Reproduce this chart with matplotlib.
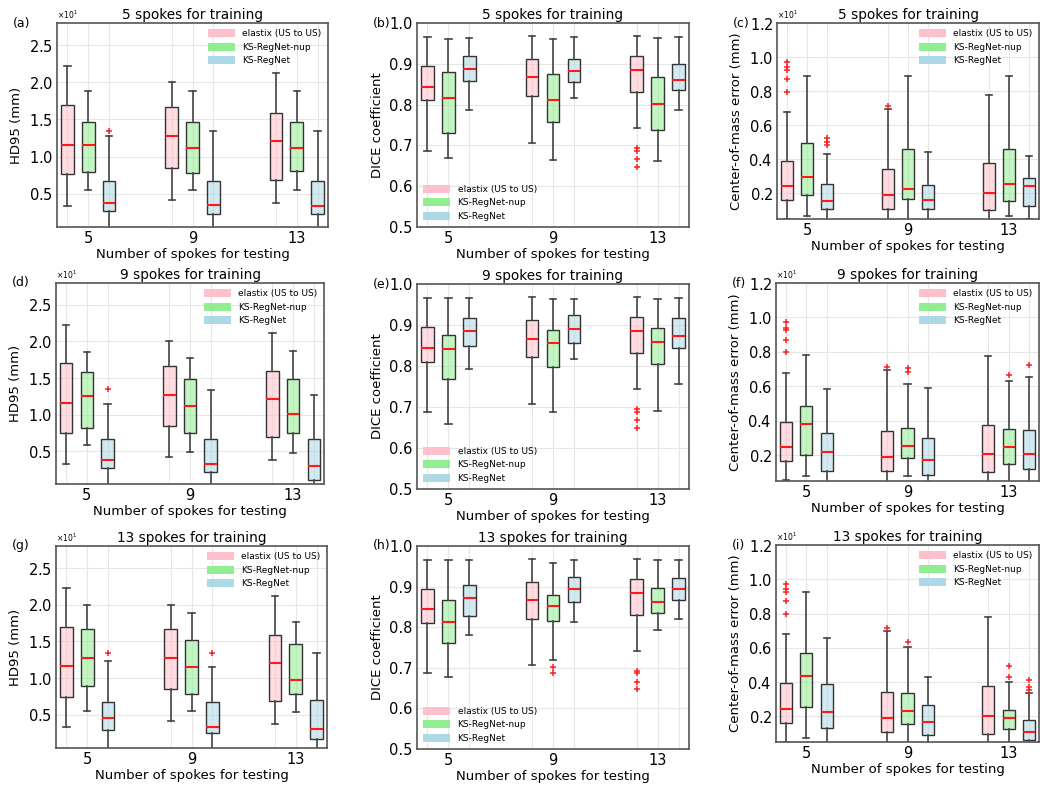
import matplotlib
matplotlib.use("Agg")
import matplotlib.pyplot as plt
from matplotlib.patches import Patch
from matplotlib.ticker import ScalarFormatter, FormatStrFormatter

# ---------------- data ----------------
methods = ["elastix (US to US)", "KS-RegNet-nup", "KS-RegNet"]
test_spokes = ["5", "9", "13"]
train_spokes = ["5", "9", "13"]
panel_letters = ["a", "b", "c", "d", "e", "f", "g", "h", "i"]

# each box: (whislo, q1, med, q3, whishi, [fliers]); order per panel:
# test 5: elastix, nup, regnet; test 9: ...; test 13: ...
# HD95 values in units of 10 mm (x10^1)
hd95_train5 = [
    (0.33, 0.76, 1.16, 1.70, 2.22, []), (0.55, 0.79, 1.15, 1.47, 1.88, []), (0.0, 0.27, 0.38, 0.67, 1.27, [1.34]),
    (0.42, 0.84, 1.27, 1.67, 2.01, []), (0.55, 0.78, 1.12, 1.47, 1.88, []), (0.0, 0.22, 0.34, 0.67, 1.34, []),
    (0.38, 0.69, 1.21, 1.59, 2.12, []), (0.55, 0.81, 1.12, 1.47, 1.88, []), (0.0, 0.22, 0.33, 0.67, 1.34, []),
]
hd95_train9 = [
    (0.33, 0.75, 1.16, 1.70, 2.22, []), (0.59, 0.82, 1.25, 1.58, 1.86, []), (0.0, 0.27, 0.38, 0.67, 1.15, [1.35]),
    (0.42, 0.84, 1.27, 1.67, 2.01, []), (0.49, 0.75, 1.12, 1.48, 1.77, []), (0.0, 0.22, 0.32, 0.67, 1.34, []),
    (0.38, 0.69, 1.21, 1.59, 2.12, []), (0.48, 0.75, 1.01, 1.48, 1.87, []), (0.0, 0.11, 0.29, 0.67, 1.27, []),
]
hd95_train13 = [
    (0.34, 0.75, 1.16, 1.70, 2.23, []), (0.55, 0.90, 1.27, 1.67, 1.99, []), (0.0, 0.30, 0.46, 0.67, 1.23, [1.34]),
    (0.42, 0.85, 1.27, 1.67, 2.00, []), (0.55, 0.79, 1.15, 1.52, 1.89, []), (0.0, 0.25, 0.34, 0.67, 1.15, [1.34]),
    (0.38, 0.69, 1.21, 1.59, 2.12, []), (0.54, 0.79, 0.97, 1.47, 1.77, []), (0.0, 0.17, 0.31, 0.71, 1.34, []),
]
dice_train5 = [
    (0.686, 0.811, 0.844, 0.895, 0.965, []), (0.668, 0.730, 0.816, 0.879, 0.962, []), (0.787, 0.857, 0.887, 0.918, 0.963, []),
    (0.706, 0.822, 0.867, 0.912, 0.968, []), (0.664, 0.757, 0.811, 0.875, 0.961, []), (0.816, 0.856, 0.883, 0.912, 0.965, []),
    (0.743, 0.831, 0.885, 0.920, 0.967, [0.693, 0.687, 0.666, 0.648]), (0.662, 0.738, 0.801, 0.868, 0.964, []),
    (0.787, 0.836, 0.860, 0.900, 0.965, []),
]
dice_train9 = [
    (0.688, 0.810, 0.845, 0.896, 0.965, []), (0.658, 0.769, 0.842, 0.876, 0.965, []), (0.792, 0.848, 0.886, 0.917, 0.965, []),
    (0.708, 0.822, 0.867, 0.913, 0.968, []), (0.689, 0.797, 0.857, 0.888, 0.963, []), (0.817, 0.855, 0.890, 0.924, 0.964, []),
    (0.743, 0.832, 0.886, 0.919, 0.968, [0.695, 0.689, 0.668, 0.648]), (0.691, 0.805, 0.859, 0.893, 0.964, []),
    (0.756, 0.844, 0.872, 0.917, 0.965, []),
]
dice_train13 = [
    (0.686, 0.811, 0.844, 0.895, 0.966, []), (0.678, 0.760, 0.814, 0.866, 0.966, []), (0.781, 0.828, 0.873, 0.904, 0.965, []),
    (0.706, 0.821, 0.867, 0.911, 0.968, []), (0.719, 0.816, 0.851, 0.880, 0.959, [0.702, 0.686]), (0.814, 0.863, 0.895, 0.924, 0.965, []),
    (0.741, 0.831, 0.885, 0.919, 0.968, [0.693, 0.687, 0.666, 0.647]), (0.793, 0.835, 0.862, 0.897, 0.965, []),
    (0.820, 0.866, 0.894, 0.920, 0.966, []),
]
# centre-of-mass error in units of 10 mm (x10^1)
com_train5 = [
    (0.052, 0.163, 0.245, 0.391, 0.678, [0.972, 0.943, 0.927, 0.869, 0.795]), (0.065, 0.192, 0.294, 0.498, 0.890, []),
    (0.0, 0.108, 0.157, 0.255, 0.432, [0.527, 0.504, 0.485]),
    (0.0, 0.108, 0.188, 0.342, 0.693, [0.713]), (0.0, 0.169, 0.225, 0.461, 0.890, []), (0.0, 0.108, 0.163, 0.247, 0.446, []),
    (0.0, 0.104, 0.202, 0.377, 0.775, []), (0.065, 0.157, 0.255, 0.461, 0.890, []), (0.052, 0.128, 0.241, 0.292, 0.422, []),
]
com_train9 = [
    (0.054, 0.165, 0.245, 0.393, 0.678, [0.974, 0.941, 0.925, 0.869, 0.797]), (0.079, 0.200, 0.379, 0.487, 0.783, []),
    (0.0, 0.106, 0.218, 0.327, 0.584, []),
    (0.0, 0.108, 0.190, 0.342, 0.695, [0.715]), (0.079, 0.181, 0.251, 0.360, 0.615, [0.707, 0.683]), (0.0, 0.087, 0.171, 0.297, 0.590, []),
    (0.0, 0.103, 0.204, 0.375, 0.777, []), (0.0, 0.151, 0.249, 0.354, 0.629, [0.668]), (0.0, 0.118, 0.204, 0.348, 0.652, [0.722]),
]
com_train13 = [
    (0.052, 0.161, 0.243, 0.393, 0.682, [0.972, 0.944, 0.928, 0.871, 0.800]), (0.076, 0.257, 0.436, 0.568, 0.926, []),
    (0.0, 0.133, 0.226, 0.389, 0.659, []),
    (0.0, 0.107, 0.190, 0.344, 0.698, [0.718]), (0.0, 0.153, 0.229, 0.334, 0.607, [0.635]), (0.0, 0.092, 0.167, 0.265, 0.432, []),
    (0.0, 0.098, 0.202, 0.379, 0.781, []), (0.0, 0.123, 0.190, 0.235, 0.403, [0.491, 0.432]),
    (0.0, 0.062, 0.111, 0.176, 0.338, [0.413, 0.369, 0.354]),
]

panels = [
    (hd95_train5, "hd"), (dice_train5, "dice"), (com_train5, "com"),
    (hd95_train9, "hd"), (dice_train9, "dice"), (com_train9, "com"),
    (hd95_train13, "hd"), (dice_train13, "dice"), (com_train13, "com"),
]

# ---------------- style ----------------
colors = ["#FFC0CB", "#90EE90", "#ADD8E6"]
frame_col = "#555555"
grid_col = "#e6e6e6"

# axes rectangles in pixels (x0, y0, x1, y1) from the top-left corner
W, H = 1050, 788
rects = [
    (57, 23, 328, 227), (417, 23, 689, 227), (777, 23, 1039, 219),
    (56, 283, 324, 484), (417, 284, 689, 489), (776, 283, 1039, 481),
    (56, 546, 327, 748), (417, 546, 689, 749), (776, 545, 1039, 742),
]

fig = plt.figure(figsize=(W / 100, H / 100), dpi=100)
fig.patch.set_facecolor("white")

offsets = [-0.2, 0.0, 0.2]
group_pos = [1, 2, 3]

for idx, ((data, kind), (x0, y0, x1, y1)) in enumerate(zip(panels, rects)):
    ax = fig.add_axes([x0 / W, 1 - y1 / H, (x1 - x0) / W, (y1 - y0) / H])
    scale = 1.0 if kind == "dice" else 10.0
    stats, positions, box_colors = [], [], []
    for g, gp in enumerate(group_pos):
        for m in range(3):
            lo, q1, med, q3, hi, fl = data[g * 3 + m]
            stats.append(dict(whislo=lo * scale, q1=q1 * scale, med=med * scale,
                              q3=q3 * scale, whishi=hi * scale,
                              fliers=[f * scale for f in fl]))
            positions.append(gp + offsets[m])
            box_colors.append(colors[m])
    bp = ax.bxp(stats, positions=positions, widths=0.12, patch_artist=True,
                showfliers=True,
                boxprops=dict(edgecolor="#333333", linewidth=1.0),
                whiskerprops=dict(color="#444444", linewidth=1.2),
                capprops=dict(color="#444444", linewidth=1.2),
                medianprops=dict(color="#ff1a1a", linewidth=1.5),
                flierprops=dict(marker="+", markeredgecolor="#ff2020",
                                markersize=4, markeredgewidth=1.1))
    for patch, c in zip(bp["boxes"], box_colors):
        patch.set_facecolor(matplotlib.colors.to_rgba(c, 0.55))

    ax.set_xlim(0.7, 3.3)
    ax.set_xticks(positions)
    labels = []
    for g in range(3):
        labels += ["", test_spokes[g], ""]
    ax.set_xticklabels(labels)
    ax.tick_params(axis="both", length=0, pad=3, labelsize=10.5)
    ax.grid(True, color=grid_col, linewidth=0.8)
    ax.set_axisbelow(True)
    for sp in ax.spines.values():
        sp.set_color(frame_col)
        sp.set_linewidth(1.2)

    if kind == "hd":
        ax.set_ylim(0.5, 28)
        ax.set_yticks([5, 10, 15, 20, 25])
        ax.set_ylabel("HD95 (mm)", fontsize=9.5)
        loc = "upper right"
    elif kind == "dice":
        ax.set_ylim(0.5, 1.0)
        ax.set_yticks([0.5, 0.6, 0.7, 0.8, 0.9, 1.0])
        ax.set_ylabel("DICE coefficient", fontsize=9.5)
        loc = "lower left"
    else:
        ax.set_ylim(0.5, 12)
        ax.set_yticks([2, 4, 6, 8, 10, 12])
        ax.set_ylabel("Center-of-mass error (mm)", fontsize=9.5)
        loc = "upper right"
    if kind != "dice":
        fmt = ScalarFormatter(useMathText=True)
        fmt.set_powerlimits((0, 0))
        ax.yaxis.set_major_formatter(fmt)
        ax.yaxis.get_offset_text().set_fontsize(5.5)
    else:
        ax.yaxis.set_major_formatter(FormatStrFormatter("%.1f"))

    ax.set_xlabel("Number of spokes for testing", fontsize=9.5, labelpad=1)
    ax.set_title(f"{train_spokes[idx // 3]} spokes for training", fontsize=9.8, pad=3)

    handles = [Patch(facecolor=c, edgecolor="none") for c in colors]
    ax.legend(handles, methods, loc=loc, frameon=False, fontsize=6.5,
              handlelength=3.0, handleheight=1.0, labelspacing=0.45,
              borderaxespad=0.3)

    ax.annotate(f"({panel_letters[idx]})", xy=(0, 1), xycoords="axes fraction",
                xytext=(-44, 0), textcoords="offset pixels",
                ha="left", va="center", fontsize=9)

fig.savefig("out.png", dpi=100, facecolor="white")
